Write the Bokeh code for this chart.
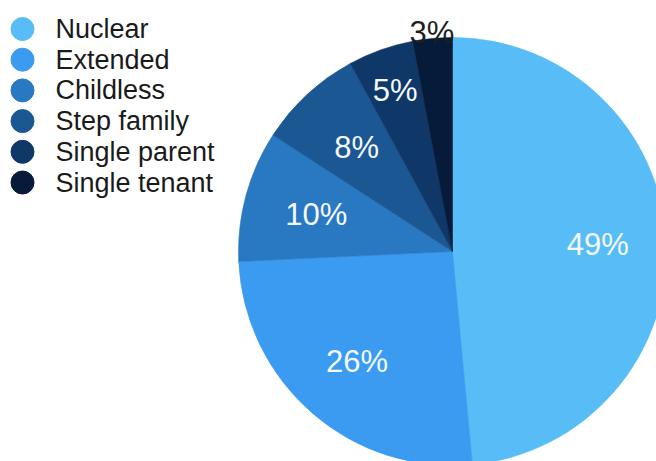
import numpy as np
from bokeh.plotting import figure
from bokeh.models import Range1d, ColumnDataSource
from bokeh.core.properties import value
from bokeh.embed import file_html
from bokeh.resources import INLINE

# ---- data ----
categories = ["Nuclear", "Extended", "Childless", "Step family", "Single parent", "Single tenant"]
shares = [49, 26, 10, 8, 5, 3]
share_labels = ["49%", "26%", "10%", "8%", "5%", "3%"]
colors = ["#58BDF6", "#3A9BF0", "#2979C2", "#1B5793", "#0F3868", "#061A39"]

# ---- layout / style ----
W, H = 656, 461
cx, cy, R = 452, H - 251, 214
label_r = [0.68, 0.68, 0.66, 0.66, 0.80, 1.03]
label_colors = ["#F4F8FF"] * 5 + ["#1E1E1E"]
FONT = "Liberation Sans"

vals = np.array(shares, dtype=float)
frac = vals / vals.sum()
cum = np.concatenate([[0.0], np.cumsum(frac)])
start = np.pi / 2 - cum[1:] * 2 * np.pi
end = np.pi / 2 - cum[:-1] * 2 * np.pi
mid = (start + end) / 2
lr = np.array(label_r)

src = ColumnDataSource(dict(
    cat=categories, start=start, end=end, color=colors,
    lx=cx + R * lr * np.cos(mid), ly=cy + R * lr * np.sin(mid),
    lab=share_labels, lcol=label_colors,
))

p = figure(width=W, height=H, x_range=Range1d(0, W), y_range=Range1d(0, H),
           output_backend="svg", toolbar_location=None, min_border=0)
p.axis.visible = False
p.xgrid.visible = False
p.ygrid.visible = False
p.outline_line_color = None
p.background_fill_color = "white"
p.border_fill_color = "white"

p.wedge(x=cx, y=cy, radius=R, start_angle="start", end_angle="end",
        direction="anticlock", fill_color="color", line_color="color",
        line_width=0.6, source=src)

p.text(x="lx", y="ly", text="lab", text_color="lcol", text_font=value(FONT),
       text_font_size="31px", text_align="center", text_baseline="middle",
       source=src)

# legend drawn manually
n = len(categories)
leg_y = [H - (28.5 + i * 30.7) for i in range(n)]
leg = ColumnDataSource(dict(x=[22] * n, tx=[55] * n, y=leg_y, cat=categories, color=colors))
p.scatter(x="x", y="y", size=23, marker="circle", fill_color="color",
          line_color="color", source=leg)
p.text(x="tx", y="y", text="cat", text_color="#1A1A1A", text_font=value(FONT),
       text_font_size="27px", text_align="left", text_baseline="middle", source=leg)

open("out.html", "w").write(file_html(p, INLINE))
